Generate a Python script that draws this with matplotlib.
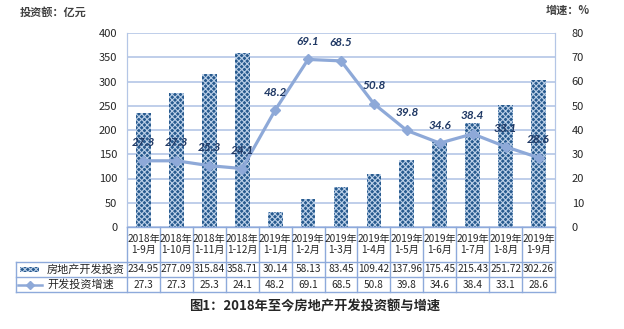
import matplotlib
matplotlib.use("Agg")
import matplotlib.pyplot as plt
import matplotlib.transforms as mtransforms
from matplotlib.patches import Rectangle
from matplotlib.lines import Line2D

plt.rcParams['font.family'] = ['Noto Sans CJK SC', 'DejaVu Sans']
plt.rcParams['hatch.linewidth'] = 0.8

# 房地产开发投资 (亿元) 与增速 (%)
periods = ['2018年\n1-9月', '2018年\n1-10月', '2018年\n1-11月', '2018年\n1-12月',
           '2019年\n1-1月', '2019年\n1-2月', '2019年\n1-3月', '2019年\n1-4月',
           '2019年\n1-5月', '2019年\n1-6月', '2019年\n1-7月', '2019年\n1-8月',
           '2019年\n1-9月']
invest = [234.95, 277.09, 315.84, 358.71, 30.14, 58.13, 83.45, 109.42,
          137.96, 175.45, 215.43, 251.72, 302.26]
growth = [27.3, 27.3, 25.3, 24.1, 48.2, 69.1, 68.5, 50.8, 39.8, 34.6, 38.4, 33.1, 28.6]
series_names = ['房地产开发投资', '开发投资增速']

bar_color = '#275a8e'
hatch_color = '#bcd0e8'
line_color = '#8ea9d8'
grid_color = '#b4c6e6'
table_color = '#8eaadb'
text_color = '#262626'

fig = plt.figure(figsize=(6.24, 3.29), dpi=100)
ax = fig.add_axes([127/624, 1 - 227/329, (555 - 127)/624, (227 - 33)/329])
ax2 = ax.twinx()

x = list(range(len(periods)))
ax.bar(x, invest, width=0.45, color=bar_color, edgecolor=hatch_color, linewidth=0,
       hatch='xxxxxx', zorder=2)
ax.set_xlim(-0.5, len(periods) - 0.5)
ax.set_ylim(0, 400)
ax.set_yticks(range(0, 401, 50))
ax.set_xticks([])
ax.grid(axis='y', color=grid_color, linewidth=1.2, zorder=0)
ax.set_axisbelow(True)

ax2.plot(x, growth, color=line_color, linewidth=2.3, marker='D', markersize=5,
         markerfacecolor=line_color, markeredgecolor=line_color, zorder=3)
ax2.set_ylim(0, 80)
ax2.set_yticks(range(0, 81, 10))
for xi, g in zip(x, growth):
    ax2.annotate(f'{g}', (xi, g), xytext=(0, 9), textcoords='offset points',
                 ha='center', va='bottom', fontsize=8.5, fontstyle='italic',
                 fontweight='bold', color='#1f3864', family='Lato')

for a in (ax, ax2):
    for s in ['top', 'bottom']:
        a.spines[s].set_visible(False)
    a.spines['left'].set_color(grid_color)
    a.spines['right'].set_color(grid_color)
    a.tick_params(length=0, labelsize=8, colors=text_color)
ax.tick_params(axis='y', pad=7)
ax2.tick_params(axis='y', pad=12)

# data table under the plot
trans = mtransforms.blended_transform_factory(ax.transData, fig.transFigure)
def fy(py):
    return 1 - py / 329

y_top, y_mid1, y_mid2, y_bot = fy(227), fy(262), fy(277), fy(292)
x0 = -0.5
x_left = x0 - (127 - 16) / ((555 - 127) / len(periods))
x_right = len(periods) - 0.5
lk = dict(color=table_color, linewidth=1.0, transform=trans, clip_on=False)
fig.add_artist(Line2D([x0, x_right], [y_top, y_top], **lk))
for yy in (y_mid1, y_mid2, y_bot):
    fig.add_artist(Line2D([x_left, x_right], [yy, yy], **lk))
for i in range(len(periods) + 1):
    fig.add_artist(Line2D([x0 + i, x0 + i], [y_top, y_bot], **lk))
fig.add_artist(Line2D([x_left, x_left], [y_mid1, y_bot], **lk))

for xi, lab, v, g in zip(x, periods, invest, growth):
    fig.text(xi, (y_top + y_mid1) / 2, lab, transform=trans, ha='center',
             va='center', fontsize=7.3, color=text_color, linespacing=1.2)
    fig.text(xi, (y_mid1 + y_mid2) / 2, f'{v:.2f}', transform=trans,
             ha='center', va='center', fontsize=7.3, color=text_color)
    fig.text(xi, (y_mid2 + y_bot) / 2, f'{g}', transform=trans,
             ha='center', va='center', fontsize=7.3, color=text_color)

# legend keys in the table's first column
fig.add_artist(Rectangle((20/624, fy(272)), 19/624, 5/329, transform=fig.transFigure,
                         facecolor=bar_color, edgecolor=hatch_color, linewidth=0,
                         hatch='xxxxxx'))
fig.add_artist(Line2D([18/624, 30/624, 42/624], [fy(284.5)] * 3,
                      transform=fig.transFigure, color=line_color, linewidth=1.8,
                      marker='D', markersize=4, markevery=[1]))
fig.text(47/624, fy(269.5), series_names[0], ha='left', va='center',
         fontsize=8, color=text_color)
fig.text(47/624, fy(284.5), series_names[1], ha='left', va='center',
         fontsize=8, color=text_color)

fig.text(20/624, fy(12), '投资额：亿元', ha='left', va='center', fontsize=8,
         fontweight='bold', color='#404040')
fig.text(590/624, fy(10), '增速：%', ha='right', va='center', fontsize=8,
         fontweight='bold', color='#404040')
fig.text(315/624, fy(306), '图1：2018年至今房地产开发投资额与增速', ha='center',
         va='center', fontsize=9.5, fontweight='bold', color='#262626')

fig.savefig('out.png', dpi=100)
